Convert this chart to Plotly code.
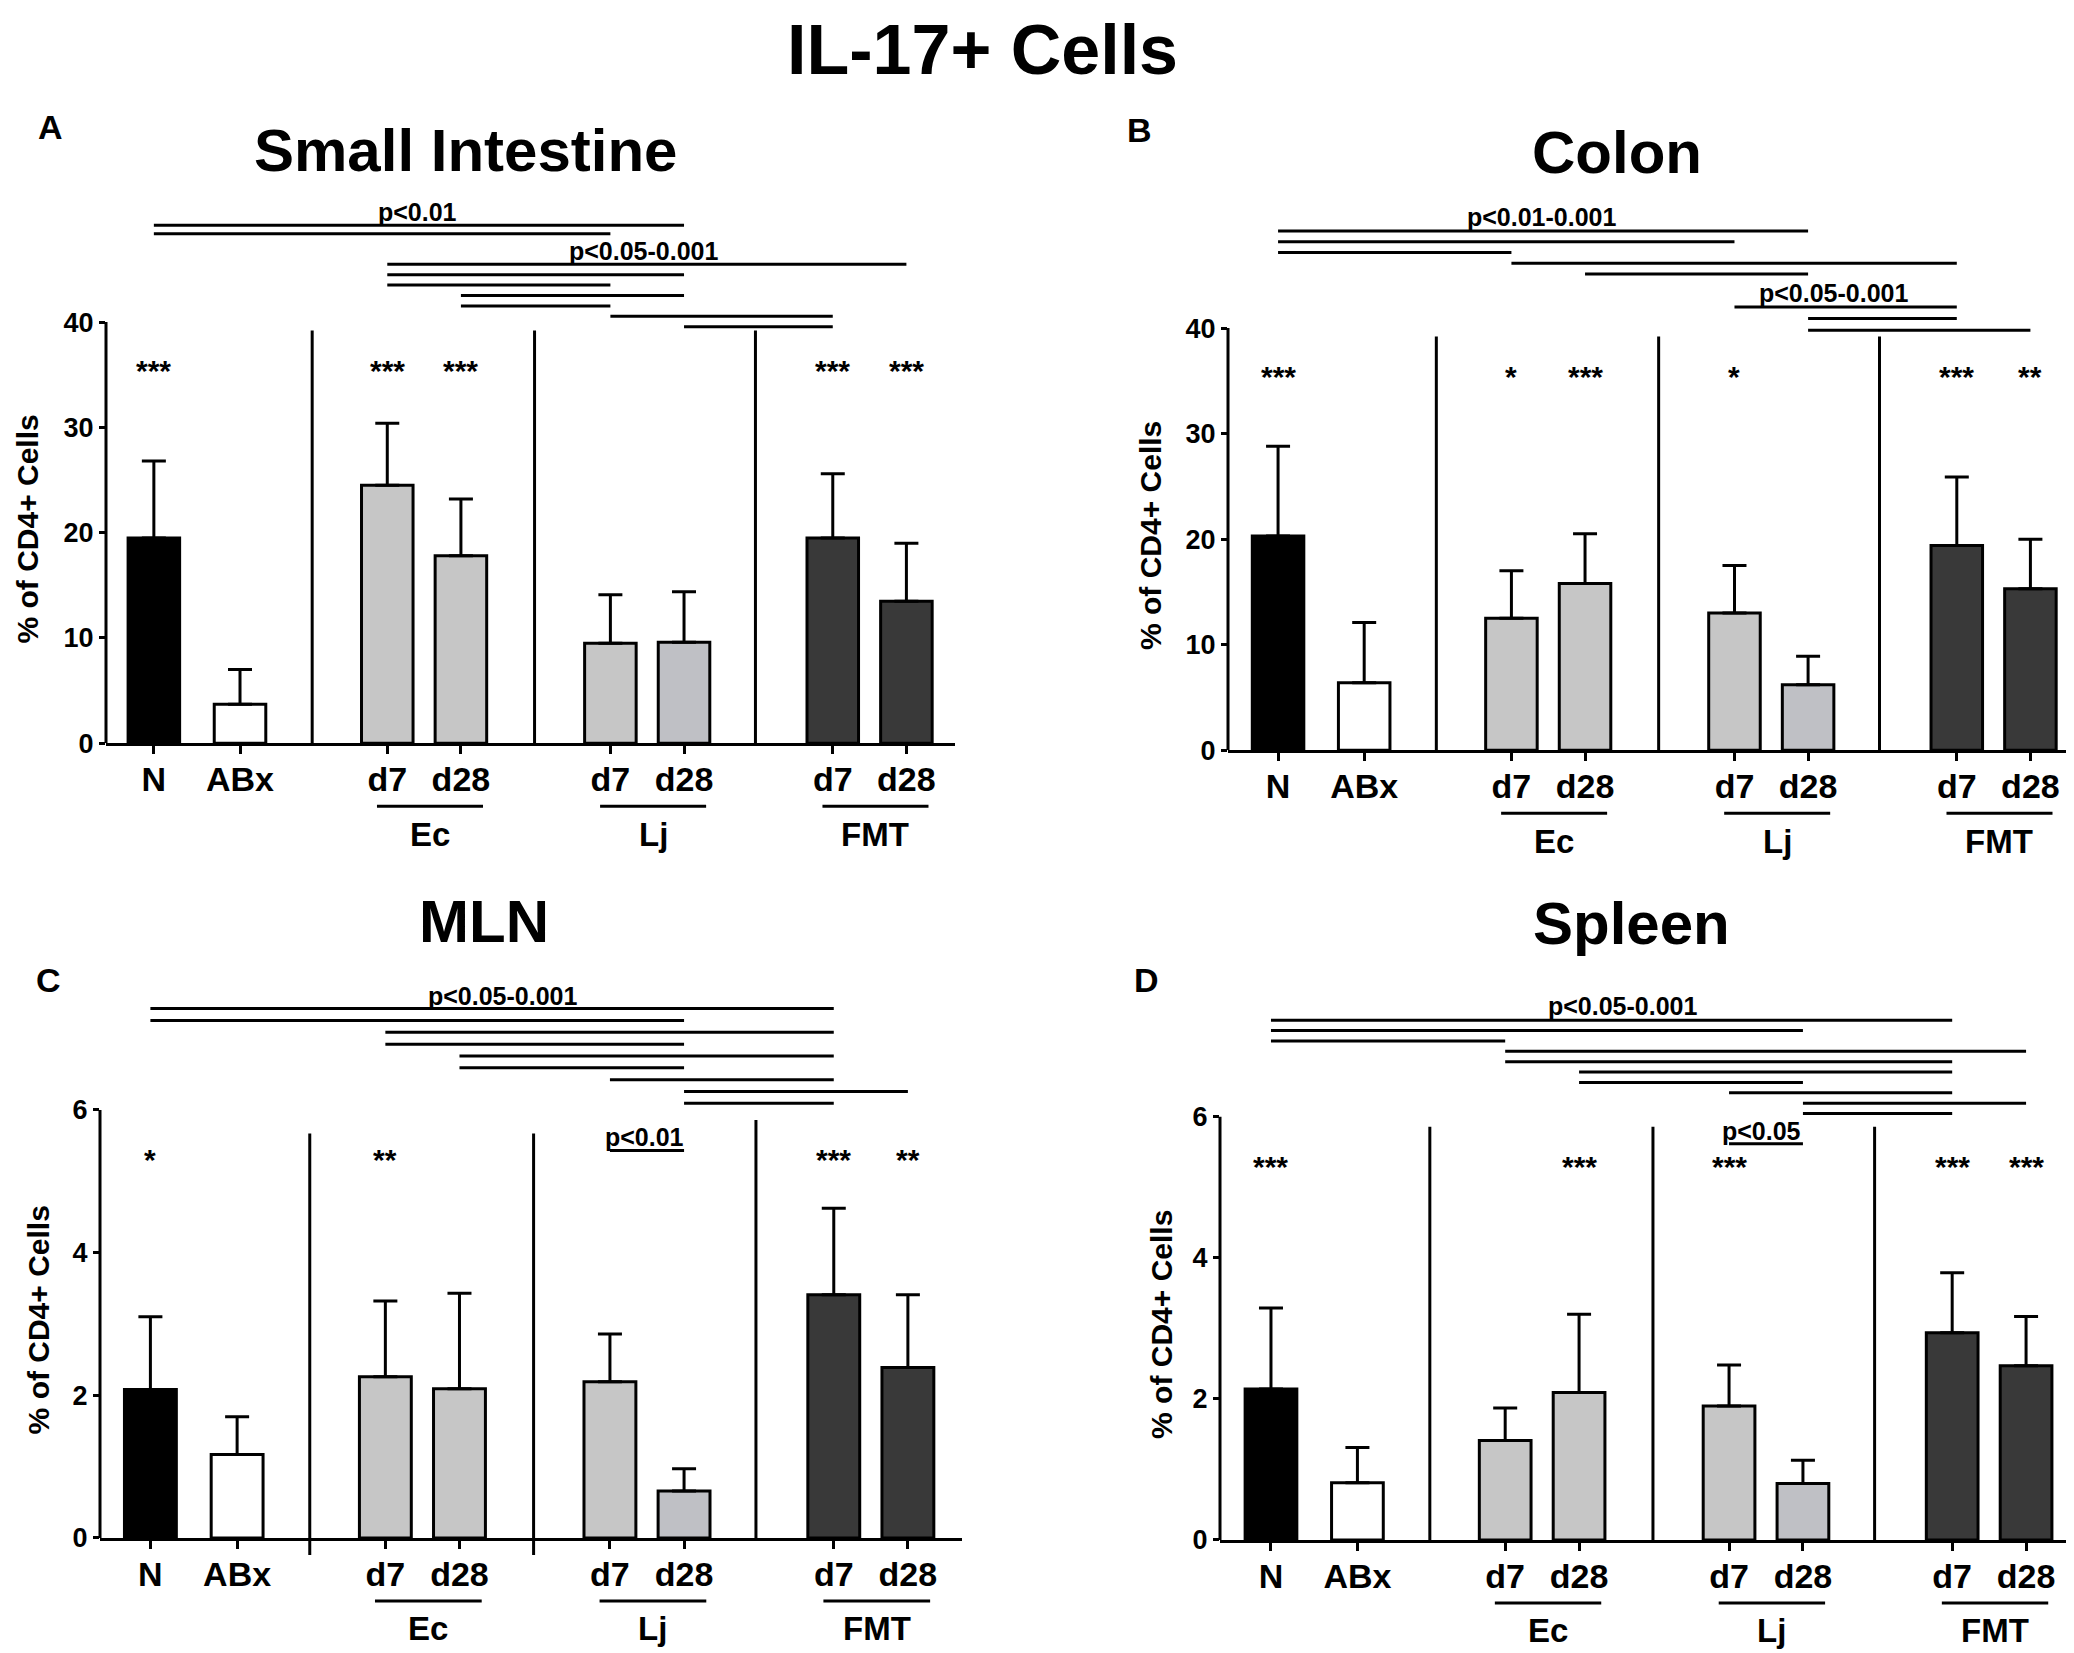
import plotly.graph_objects as go

W, H = 2074, 1653
FONT = "Liberation Sans, Arial, Helvetica, sans-serif"

# groups, in plotting order
groups = ["N", "ABx", "Ec d7", "Ec d28", "Lj d7", "Lj d28", "FMT d7", "FMT d28"]
tick_text = ["N", "ABx", "d7", "d28", "d7", "d28", "d7", "d28"]
bar_colors = ["#000000", "#ffffff", "#c6c6c6", "#c6c6c6", "#c6c6c6", "#bfc0c5", "#393939", "#393939"]
treatments = [("Ec", 2, 3), ("Lj", 4, 5), ("FMT", 6, 7)]

# % of CD4+ cells that are IL-17+ (mean, error)
si_mean = [19.5, 3.7, 24.5, 17.8, 9.5, 9.6, 19.5, 13.5]
si_err = [7.3, 3.3, 5.9, 5.4, 4.6, 4.8, 6.1, 5.5]
si_stars = ["***", "", "***", "***", "", "", "***", "***"]

colon_mean = [20.3, 6.4, 12.5, 15.8, 13.0, 6.2, 19.4, 15.3]
colon_err = [8.5, 5.7, 4.5, 4.7, 4.5, 2.7, 6.5, 4.7]
colon_stars = ["***", "", "*", "***", "*", "", "***", "**"]

mln_mean = [2.08, 1.17, 2.26, 2.09, 2.19, 0.66, 3.41, 2.39]
mln_err = [1.02, 0.53, 1.06, 1.34, 0.67, 0.31, 1.21, 1.02]
mln_stars = ["*", "", "**", "", "", "", "***", "**"]

spleen_mean = [2.14, 0.81, 1.41, 2.09, 1.90, 0.80, 2.94, 2.47]
spleen_err = [1.15, 0.50, 0.46, 1.11, 0.58, 0.33, 0.85, 0.70]
spleen_stars = ["***", "", "", "***", "***", "", "***", "***"]

# pairwise comparisons (group indices) drawn as bars above the plot
si_sig = [("p<0.01", [(0, 5), (0, 4)]),
          ("p<0.05-0.001", [(2, 7), (2, 5), (2, 4), (3, 5), (3, 4), (4, 6), (5, 6)])]
colon_sig = [("p<0.01-0.001", [(0, 5), (0, 4), (0, 2), (2, 6), (3, 5)]),
             ("p<0.05-0.001", [(4, 6), (5, 6), (5, 7)])]
mln_sig = [("p<0.05-0.001", [(0, 6), (0, 5), (2, 6), (2, 5), (3, 6), (3, 5), (4, 6), (5, 7), (5, 6)]),
           ("p<0.01", [(4, 5)])]
spleen_sig = [("p<0.05-0.001", [(0, 6), (0, 5), (0, 2), (2, 7), (2, 6), (3, 6), (3, 5), (4, 6), (5, 7), (5, 6)]),
              ("p<0.05", [(4, 5)])]

# layout bits (pixel positions on the 2074x1653 page)
xpos = [0, 1.17, 3.17, 4.17, 6.2, 7.2, 9.22, 10.22]
seps = [2.15, 5.17, 8.17]

panels = [
    dict(title="Small Intestine", tpos=(457, 144), letter="A", lpos=(42, 120),
         mean=si_mean, err=si_err, stars=si_stars, sig=si_sig,
         xpx=(98, 947), xr=(-0.65, 10.88), ybot=742, ytop_tick=317, ymax=53,
         yticks=[0, 10, 20, 30, 40], star_y=35.4,
         sig_pos=[(3.58, 50.5, 49.2, 0.8), (6.66, 46.8, 45.5, 0.99)],
         sep_top=[39.2, 39.2, 39.2], sep_ext=[0, 0, 0], ytitle=(20, 20.3)),
    dict(title="Colon", tpos=(1609, 146), letter="B", lpos=(1131, 123),
         mean=colon_mean, err=colon_err, stars=colon_stars, sig=colon_sig,
         xpx=(1220, 2071), xr=(-0.68, 10.88), ybot=749, ytop_tick=323, ymax=53,
         yticks=[0, 10, 20, 30, 40], star_y=35.4,
         sig_pos=[(3.58, 50.5, 49.2, 1.02), (7.55, 43.3, 42.0, 1.1)],
         sep_top=[39.2, 39.2, 39.2], sep_ext=[0, 0, 0], ytitle=(1143, 20.3)),
    dict(title="MLN", tpos=(476, 922), letter="C", lpos=(40, 981),
         mean=mln_mean, err=mln_err, stars=mln_stars, sig=mln_sig,
         xpx=(92, 954), xr=(-0.68, 10.95), ybot=1544, ytop_tick=1112, ymax=7.9,
         yticks=[0, 2, 4, 6], star_y=5.31,
         sig_pos=[(4.76, 7.6, 7.42, 0.166), (6.67, 5.62, 5.43, 0)],
         sep_top=[5.67, 5.67, 5.86], sep_ext=[17, 17, 0], ytitle=(30, 3.05)),
    dict(title="Spleen", tpos=(1623, 924), letter="D", lpos=(1138, 981),
         mean=spleen_mean, err=spleen_err, stars=spleen_stars, sig=spleen_sig,
         xpx=(1212, 2072), xr=(-0.69, 10.95), ybot=1546, ytop_tick=1119, ymax=7.9,
         yticks=[0, 2, 4, 6], star_y=5.29,
         sig_pos=[(4.77, 7.57, 7.37, 0.147), (6.64, 5.8, 5.62, 0)],
         sep_top=[5.86, 5.86, 5.86], sep_ext=[0, 0, 0], ytitle=(1154, 3.05)),
]


def bold(size):
    return dict(family=FONT, size=size, color="black", weight="bold")


def label(text, x, y, xref, yref, size, **kw):
    return dict(x=x, y=y, xref=xref, yref=yref, text=text, showarrow=False,
                xanchor="center", yanchor="middle", font=bold(size), **kw)


fig = go.Figure()
shapes = []
annotations = []

for k, p in enumerate(panels):
    n = "" if k == 0 else str(k + 1)
    xa, ya = "x" + n, "y" + n
    line = dict(color="black", width=3)

    fig.add_trace(go.Bar(
        x=xpos, y=p["mean"], width=0.7, xaxis=xa, yaxis=ya, showlegend=False,
        marker=dict(color=bar_colors, line=dict(color="black", width=3)),
        error_y=dict(type="data", symmetric=False, array=p["err"], arrayminus=[0] * len(groups),
                     color="black", thickness=3, width=12),
    ))

    scale = (p["ybot"] - p["ytop_tick"]) / p["yticks"][-1]
    ytop = p["ybot"] - p["ymax"] * scale
    fig.layout["xaxis" + n] = dict(
        domain=[p["xpx"][0] / W, p["xpx"][1] / W], range=list(p["xr"]), anchor=ya,
        showline=True, linecolor="black", linewidth=3, showgrid=False, zeroline=False,
        ticks="outside", ticklen=8, tickwidth=3, tickcolor="black", ticklabelstandoff=-4,
        tickvals=xpos, ticktext=tick_text, tickfont=bold(34))
    fig.layout["yaxis" + n] = dict(
        domain=[1 - p["ybot"] / H, 1 - ytop / H], range=[0, p["ymax"]], anchor=xa,
        showline=False, showgrid=False, zeroline=False,
        ticks="outside", ticklen=6, tickwidth=3, tickcolor="black",
        tickvals=p["yticks"], tickfont=bold(27))
    ybase = 1 - p["ybot"] / H

    # y axis line only up to the top tick
    shapes.append(dict(type="line", xref=xa + " domain", yref=ya, x0=0, x1=0,
                       y0=0, y1=p["yticks"][-1], line=line))

    # vertical separators between treatment blocks
    for sx, top, ext in zip(seps, p["sep_top"], p["sep_ext"]):
        shapes.append(dict(type="line", xref=xa, yref=ya, x0=sx, x1=sx, y0=0, y1=top, line=line))
        if ext:
            shapes.append(dict(type="line", xref=xa, yref="paper", ysizemode="pixel", yanchor=ybase,
                               x0=sx, x1=sx, y0=-ext, y1=0, line=line))

    # significance stars vs ABx
    for x, s in zip(xpos, p["stars"]):
        if s:
            annotations.append(label(s, x, p["star_y"], xa, ya, 30))

    # pairwise comparison lines
    for (txt, pairs), (tx, ty, top, step) in zip(p["sig"], p["sig_pos"]):
        annotations.append(label(txt, tx, ty, xa, ya, 25))
        for i, (a, b) in enumerate(pairs):
            yy = top - i * step
            shapes.append(dict(type="line", xref=xa, yref=ya, x0=xpos[a], x1=xpos[b],
                               y0=yy, y1=yy, line=line))

    # treatment labels under the axis
    for name, a, b in treatments:
        c = (xpos[a] + xpos[b]) / 2 + 0.08
        shapes.append(dict(type="line", xref=xa, yref="paper", ysizemode="pixel", yanchor=ybase,
                           x0=c - 0.72, x1=c + 0.72, y0=-63, y1=-63, line=line))
        annotations.append(label(name, c, ybase, xa, "paper", 33, yshift=-91))

    annotations.append(label("% of CD4+ Cells", p["ytitle"][0] / W, p["ytitle"][1], "paper", ya, 30,
                             textangle=-90))
    annotations.append(label(p["title"], p["tpos"][0] / W, 1 - p["tpos"][1] / H, "paper", "paper", 60))
    annotations.append(label(p["letter"], p["lpos"][0] / W, 1 - p["lpos"][1] / H, "paper", "paper", 34))

annotations.append(label("IL-17+ Cells", 974 / W, 1 - 42 / H, "paper", "paper", 70))

fig.update_layout(width=W, height=H, margin=dict(l=0, r=0, t=0, b=0),
                  paper_bgcolor="white", plot_bgcolor="white",
                  font=dict(family=FONT),
                  shapes=shapes, annotations=annotations)

fig.write_html("out.html")
